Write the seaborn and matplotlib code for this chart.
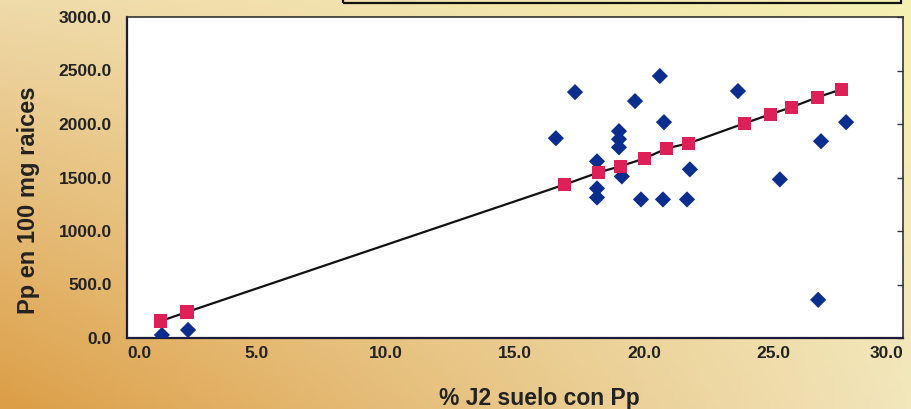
import numpy as np
import pandas as pd
import seaborn as sns
import matplotlib.pyplot as plt
from matplotlib.patches import Rectangle
from matplotlib.colors import to_rgb

# observed values (blue diamonds)
obs_x = [1.35, 2.36, 16.58, 17.32, 18.17, 18.17, 18.17, 19.02, 19.02, 19.02,
         19.13, 19.64, 19.87, 20.60, 20.76, 20.72, 21.65, 21.76, 23.62,
         25.24, 26.83, 27.80, 26.72]
obs_y = [28, 75, 1867, 2298, 1651, 1398, 1313, 1933, 1858, 1782,
         1510, 2214, 1295, 2448, 2017, 1295, 1295, 1576, 2308,
         1482, 1839, 2017, 357]

# fitted values (red squares + line)
fit_x = [1.31, 2.32, 16.93, 18.24, 19.06, 20.02, 20.87, 21.72, 23.89,
         24.89, 25.70, 26.71, 27.64]
fit_y = [159, 243, 1435, 1548, 1604, 1679, 1773, 1820, 2008,
         2092, 2158, 2251, 2326]

x_ticks = [0, 5, 10, 15, 20, 25, 30]
y_ticks = [0, 500, 1000, 1500, 2000, 2500, 3000]

obs = pd.DataFrame({"x": obs_x, "y": obs_y})
fit = pd.DataFrame({"x": fit_x, "y": fit_y})

sns.set_style("white")
plt.rcParams['font.family'] = ['Liberation Sans', 'DejaVu Sans']
plt.rcParams['font.weight'] = 'bold'

fig = plt.figure(figsize=(9.11, 4.09), dpi=100)

# orange-to-yellow paper background
bg = fig.add_axes([0, 0, 1, 1], zorder=-10)
tl, bl = np.array(to_rgb('#efdaaa')), np.array(to_rgb('#dc9e46'))
tr, br = np.array(to_rgb('#f5f0b2')), np.array(to_rgb('#f2e6bc'))
u = np.linspace(0, 1, 200)[None, :, None]
v = np.linspace(0, 1, 100)[:, None, None]
grad = (1 - v) * ((1 - u) * tl + u * tr) + v * ((1 - u) * bl + u * br)
bg.imshow(grad, aspect='auto', extent=[0, 1, 0, 1])
bg.axis('off')

# cropped box at the top
fig.add_artist(Rectangle((343 / 911, 1 - 3 / 409), (901 - 343) / 911, 0.05,
                         transform=fig.transFigure, fill=False,
                         edgecolor='#111111', linewidth=1.6, clip_on=False))

ax = fig.add_axes([127 / 911, 71 / 409, 776 / 911, 321 / 409])
ax.set_facecolor('white')

sns.lineplot(data=fit, x="x", y="y", ax=ax, color='#111111', linewidth=1.6,
             sort=True, estimator=None, zorder=2)
sns.scatterplot(data=obs, x="x", y="y", ax=ax, marker='D', s=68,
                color='#0b2d8e', edgecolor='none', zorder=3)
sns.scatterplot(data=fit, x="x", y="y", ax=ax, marker='s', s=88,
                color='#dd2058', edgecolor='none', zorder=4)

ax.set_xlim(0, 30)
ax.set_ylim(0, 3000)
ax.set_xticks(x_ticks)
ax.set_yticks(y_ticks)
ax.set_xticklabels(["%.1f" % t for t in x_ticks])
ax.set_yticklabels(["%.1f" % t for t in y_ticks])
ax.tick_params(axis='both', direction='in', length=4, width=1,
               color='#333355', labelsize=12.5, labelcolor='#222222',
               right=True)
ax.tick_params(axis='y', pad=11)
ax.tick_params(axis='x', pad=6)
for lab in ax.get_xticklabels() + ax.get_yticklabels():
    lab.set_fontweight('bold')
xl = ax.get_xticklabels()
xl[0].set_horizontalalignment('left')
xl[-1].set_horizontalalignment('right')

for side in ['left', 'bottom']:
    ax.spines[side].set_color('#1c1c3a')
    ax.spines[side].set_linewidth(1.6)
for side in ['top', 'right']:
    ax.spines[side].set_color('#333333')
    ax.spines[side].set_linewidth(1.2)

ax.set_xlabel('% J2 suelo con Pp', fontsize=16.5, fontweight='bold',
              color='#222222')
ax.set_ylabel('Pp en 100 mg raices', fontsize=17, fontweight='bold',
              color='#222222')
ax.xaxis.set_label_coords(0.532, -0.152)
ax.yaxis.set_label_coords(-0.112, 0.43)

plt.savefig('out.png', dpi=100)
